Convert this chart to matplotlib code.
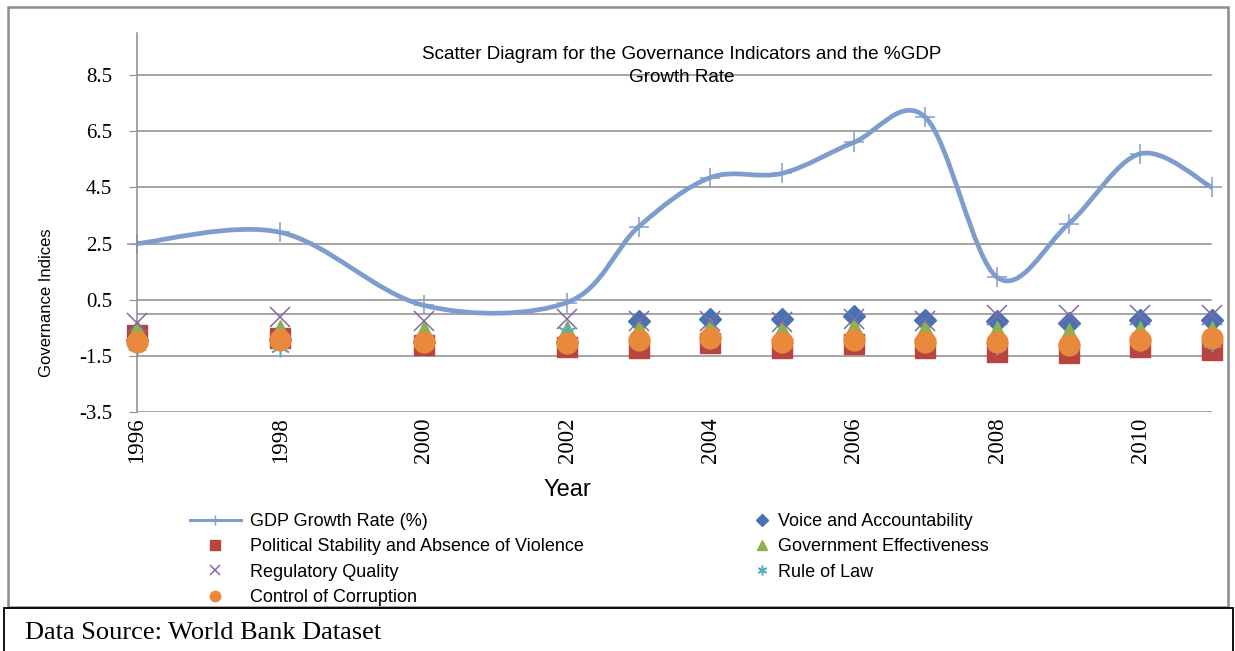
import numpy as np
import matplotlib.pyplot as plt
from matplotlib.path import Path
from matplotlib.patches import PathPatch, Rectangle
from matplotlib.lines import Line2D

# --- data ---
years = [1996, 1998, 2000, 2002, 2003, 2004, 2005, 2006, 2007, 2008, 2009, 2010, 2011]
gdp = [2.5, 2.9, 0.3, 0.4, 3.1, 4.85, 5.0, 6.1, 7.0, 1.3, 3.2, 5.7, 4.5]
voice = [-0.95, -0.9, -1.0, -1.0, -0.27, -0.18, -0.18, -0.09, -0.24, -0.27, -0.33, -0.23, -0.23]
political = [-0.75, -0.85, -1.1, -1.2, -1.23, -1.04, -1.22, -1.08, -1.22, -1.37, -1.4, -1.18, -1.3]
gov_eff = [-0.57, -0.57, -0.63, -0.63, -0.57, -0.5, -0.63, -0.5, -0.57, -0.63, -0.69, -0.63, -0.63]
reg_quality = [-0.32, -0.13, -0.27, -0.2, -0.27, -0.25, -0.3, -0.2, -0.25, -0.06, -0.03, -0.03, -0.03]
rule_of_law = [-1.1, -1.2, -0.95, -0.65, -0.95, -0.9, -0.95, -0.95, -1.0, -1.1, -1.05, -1.0, -1.0]
corruption = [-0.99, -0.93, -1.02, -1.05, -0.93, -0.87, -0.99, -0.93, -0.99, -1.02, -1.1, -0.93, -0.87]

xtick_years = [1996, 1998, 2000, 2002, 2004, 2006, 2008, 2010]
ytick_vals = [-3.5, -1.5, 0.5, 2.5, 4.5, 6.5, 8.5]

W, H = 1235, 651
fig = plt.figure(figsize=(W / 100, H / 100), dpi=100)

# chart frame + data source cell
fig.patches.append(Rectangle((8 / W, 1 - 607 / H), 1220 / W, 600 / H, transform=fig.transFigure,
                             fill=False, edgecolor='#8c8c8c', lw=1.8))
fig.patches.append(Rectangle((4 / W, -0.01), 1229 / W, 1 - 608 / H + 0.01, transform=fig.transFigure,
                             fill=False, edgecolor='black', lw=1.3))

ax = fig.add_axes([137 / W, 1 - 412 / H, 1075 / W, 379 / H])
ax.set_xlim(1996, 2011)
ax.set_ylim(-3.5, 10)

for v in ytick_vals:
    ax.axhline(v, color='#8c8c8c', lw=1.1, zorder=0)
ax.axhline(0, color='#8c8c8c', lw=1.1, zorder=0)

for s in ['top', 'right', 'bottom']:
    ax.spines[s].set_visible(False)
ax.spines['left'].set_color('#8c8c8c')
ax.spines['left'].set_linewidth(1.1)

ax.set_xticks(xtick_years)
ax.set_xticklabels([str(y) for y in xtick_years], rotation=90, fontsize=16.5,
                   family='Liberation Serif')
ax.tick_params(axis='x', length=0, pad=4)
ax.set_yticks(ytick_vals)
ax.set_yticklabels([str(v) for v in ytick_vals], fontsize=15, family='Liberation Serif')
ax.tick_params(axis='y', length=6, color='#8c8c8c', pad=12)

# smoothed GDP line (Excel style cubic bezier through the points)
line_col = '#7e9dcf'
pts = np.column_stack([years, gdp]).astype(float)
n = len(pts)
verts = [pts[0]]
codes = [Path.MOVETO]
for i in range(n - 1):
    p0 = pts[max(i - 1, 0)]
    p1 = pts[i]
    p2 = pts[i + 1]
    p3 = pts[min(i + 2, n - 1)]
    verts += [p1 + (p2 - p0) / 6, p2 - (p3 - p1) / 6, p2]
    codes += [Path.CURVE4] * 3
ax.add_patch(PathPatch(Path(verts, codes), fill=False, edgecolor=line_col, lw=3.4,
                       capstyle='round', zorder=2))
ax.plot(years, gdp, ls='none', marker='+', ms=15, mew=1.1, color=line_col, zorder=2, clip_on=False)

h_voice, = ax.plot(years, voice, ls='none', marker='D', ms=11.5, color='#4573b3',
                   label='Voice and Accountability', zorder=3, clip_on=False)
h_pol, = ax.plot(years, political, ls='none', marker='s', ms=14.5, color='#b8443f',
                 label='Political Stability and Absence of Violence', zorder=4, clip_on=False)
h_gov, = ax.plot(years, gov_eff, ls='none', marker='^', ms=14, color='#8fb04f',
                 label='Government Effectiveness', zorder=5, clip_on=False)
h_reg, = ax.plot(years, reg_quality, ls='none', marker='x', ms=14, mew=1.1, color='#8468a6',
                 label='Regulatory Quality', zorder=6, clip_on=False)
h_rule, = ax.plot(years, rule_of_law, ls='none', marker=(6, 2, 0), ms=14, mew=1.1, color='#4bacc6',
                  label='Rule of Law', zorder=7, clip_on=False)
h_cor, = ax.plot(years, corruption, ls='none', marker='o', ms=15, color='#e8893c',
                 label='Control of Corruption', zorder=8, clip_on=False)
h_gdp = Line2D([], [], color=line_col, lw=2.2, marker='+', ms=15, mew=1.0, label='GDP Growth Rate (%)')

narrow = ['Liberation Sans Narrow', 'Liberation Sans', 'DejaVu Sans']
leg_kw = dict(loc='upper left', frameon=False, borderpad=0, borderaxespad=0,
              prop={'family': narrow, 'size': 13}, labelspacing=0.46, markerscale=0.5)
fig.legend(handles=[h_gdp, h_pol, h_reg, h_cor], bbox_to_anchor=(190 / W, 1 - 513 / H),
           handlelength=2.8, handletextpad=0.55, **leg_kw)
fig.legend(handles=[h_voice, h_gov, h_rule], bbox_to_anchor=(752 / W, 1 - 513 / H),
           handlelength=1.1, handletextpad=0.35, **leg_kw)

fig.text(682 / W, 1 - 66 / H, 'Scatter Diagram for the Governance Indicators and the %GDP\nGrowth Rate',
         ha='center', va='center', fontsize=13.6, family=narrow, linespacing=1.4)
fig.text(567 / W, 1 - 490 / H, 'Year', ha='center', va='center', fontsize=17, family=narrow)
fig.text(47 / W, 1 - 303 / H, 'Governance Indices', ha='center', va='center', rotation=90,
         fontsize=12, family=narrow)
fig.text(25 / W, 1 - 633 / H, 'Data Source: World Bank Dataset', ha='left', va='center',
         fontsize=19, family='Liberation Serif')

fig.savefig('out.png', dpi=100)
